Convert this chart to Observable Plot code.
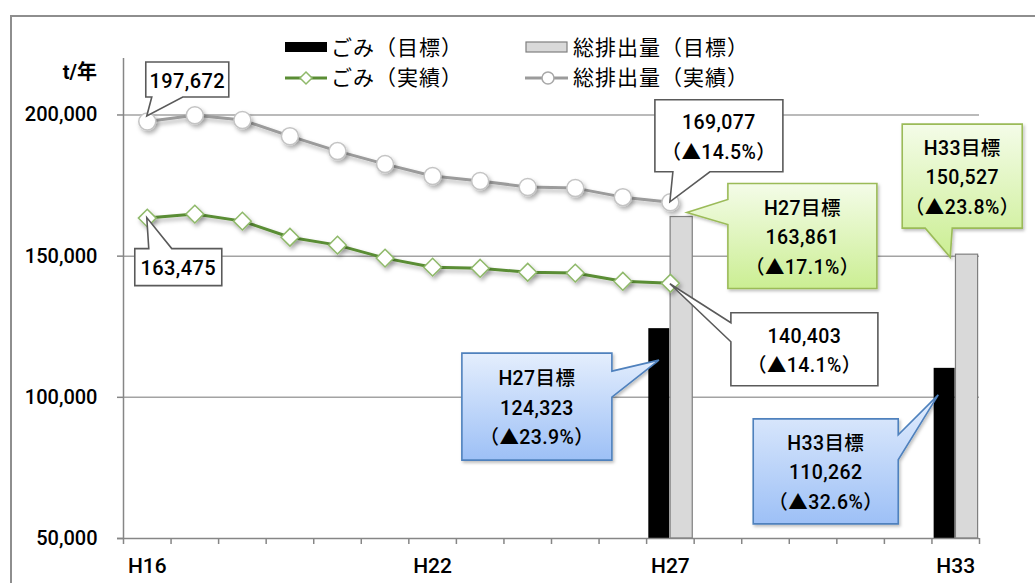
<!DOCTYPE html>
<html>
<head>
<meta charset="utf-8">
<script src="https://cdn.jsdelivr.net/npm/d3@7"></script>
<script src="https://cdn.jsdelivr.net/npm/@observablehq/plot@0.6"></script>
<style>
  html, body { margin: 0; padding: 0; background: #fff; overflow: hidden; }
  #wrap { position: relative; width: 1035px; height: 583px; overflow: hidden; }
  #frame { position: absolute; left: 10px; top: 15px; width: 1100px; height: 700px; border: 2px solid #8e8e8e; box-sizing: border-box; }
  #wrap svg { position: absolute; left: 0; top: 0; }
</style>
</head>
<body>
<div id="wrap"><div id="frame"></div></div>
<script>
// ---------------- data ----------------
const years = ["H16","H17","H18","H19","H20","H21","H22","H23","H24","H25","H26","H27","H28","H29","H30","H31","H32","H33"];
const actualYears = ["H16","H17","H18","H19","H20","H21","H22","H23","H24","H25","H26","H27"];
const totalActual = [197672, 199900, 198200, 192500, 187200, 182600, 178400, 176600, 174500, 174100, 170900, 169077];
const gomiActual  = [163475, 164900, 162400, 156700, 153900, 149300, 146100, 145700, 144300, 144000, 141100, 140403];
const targetYears = ["H27", "H33"];
const gomiTarget  = [124323, 110262];
const totalTarget = [163861, 150527];
const gomiTargetPct  = ["▲23.9%", "▲32.6%"];
const totalTargetPct = ["▲17.1%", "▲23.8%"];
const totalActualPct = "▲14.5%";
const gomiActualPct  = "▲14.1%";
const yTicks = [50000, 100000, 150000, 200000];
const xLabelTicks = ["H16", "H22", "H27", "H33"];
const legendNames = ["ごみ（目標）", "総排出量（目標）", "ごみ（実績）", "総排出量（実績）"];
const unitLabel = "t/年";

// ---------------- build ----------------
const idx = y => years.indexOf(y);
const totalRows = actualYears.map((y, k) => ({i: idx(y), v: totalActual[k]}));
const gomiRows  = actualYears.map((y, k) => ({i: idx(y), v: gomiActual[k]}));
const targetRows = targetYears.map((y, k) => ({i: idx(y), gomi: gomiTarget[k], total: totalTarget[k]}));
const boundaries = d3.range(years.length + 1).map(k => k - 0.5);
const fmt = d3.format(",");

const FONT = "Roboto,'Liberation Sans','Noto Sans CJK JP',sans-serif";
const CJK = "'Noto Sans CJK JP',sans-serif";
const AX = "#868686";
const GREEN = "#5a8d34";
const GREEN_M = "#8fb96a";
const GRAY_L = "#9b9b9b";

const chart = Plot.plot({
  width: 1035, height: 583,
  marginLeft: 123, marginRight: 56, marginTop: 58, marginBottom: 45,
  style: {fontFamily: FONT, fontSize: "20px", fontWeight: 500, color: "black", background: "transparent", overflow: "visible"},
  x: {type: "linear", domain: [-0.5, years.length - 0.5], label: null},
  y: {domain: [50000, 220000], label: null},
  marks: [
    Plot.gridY(yTicks.slice(1), {stroke: "#a3a3a3", strokeOpacity: 1, strokeWidth: 1.5}),
    Plot.rectY(targetRows, {x1: d => d.i - 0.5, x2: d => d.i + 0.5, y1: 50000, y2: "gomi", fill: "black", insetLeft: 2.2, insetRight: 24.4}),
    Plot.rectY(targetRows, {x1: d => d.i - 0.5, x2: d => d.i + 0.5, y1: 50000, y2: "total", fill: "#d9d9d9", stroke: "#7f7f7f", strokeWidth: 1.2, insetLeft: 24, insetRight: 1.4}),
    Plot.ruleX([-0.5], {stroke: AX, strokeWidth: 1.5}),
    Plot.ruleY([50000], {stroke: AX, strokeWidth: 1.5, insetLeft: -6}),
    Plot.axisY(yTicks, {tickSize: 6, tickPadding: 20, tickFormat: fmt, fontSize: 20, stroke: AX, strokeWidth: 1.5, label: null}),
    Plot.axisX(boundaries, {tickSize: 6, tickFormat: () => "", stroke: AX, strokeWidth: 1.5, label: null}),
    Plot.axisX(xLabelTicks.map(idx), {tickSize: 0, tickPadding: 20, tickFormat: i => years[i], fontSize: 21, label: null}),
    Plot.line(totalRows, {x: "i", y: "v", stroke: GRAY_L, strokeWidth: 3}),
    Plot.dot(totalRows, {x: "i", y: "v", r: 8.5, fill: "white", stroke: "#c4c4c4", strokeWidth: 1.5}),
    Plot.line(gomiRows, {x: "i", y: "v", stroke: GREEN, strokeWidth: 3}),
    Plot.dot(gomiRows, {x: "i", y: "v", r: 8, symbol: "diamond2", fill: "white", stroke: GREEN_M, strokeWidth: 1.5})
  ]
});

document.getElementById("wrap").appendChild(chart);

// ---------------- decorations (callouts, legend) ----------------
const svg = d3.select(chart);
const xs = chart.scale("x"), ys = chart.scale("y");
const defs = svg.insert("defs", ":first-child");
const sh = defs.append("filter").attr("id", "sh").attr("x", "-30%").attr("y", "-30%").attr("width", "170%").attr("height", "170%");
sh.append("feDropShadow").attr("dx", 2).attr("dy", 3).attr("stdDeviation", 2).attr("flood-color", "#000").attr("flood-opacity", 0.3);
const sh2 = defs.append("filter").attr("id", "sh2").attr("x", "-10%").attr("y", "-10%").attr("width", "130%").attr("height", "130%");
sh2.append("feDropShadow").attr("dx", 1.5).attr("dy", 2).attr("stdDeviation", 1.5).attr("flood-color", "#000").attr("flood-opacity", 0.25);
function grad(id, c0, c1) {
  const g = defs.append("linearGradient").attr("id", id).attr("x1", 0).attr("y1", 0).attr("x2", 0).attr("y2", 1);
  g.append("stop").attr("offset", "0").attr("stop-color", c0);
  g.append("stop").attr("offset", "1").attr("stop-color", c1);
}
grad("gGreen", "#f4fce8", "#cbee93");
grad("gBlue", "#e4eefd", "#9dc0f6");

svg.selectAll('g[aria-label="line"], g[aria-label="dot"]').attr("filter", "url(#sh)");

const styles = {
  white: {fill: "white", stroke: "#5a5a5a"},
  green: {fill: "url(#gGreen)", stroke: "#9bbb59"},
  blue:  {fill: "url(#gBlue)", stroke: "#4f81bd"}
};

// callouts: anchor from data, layout in pixels
const callouts = [
  {cat: "H16", val: totalActual[0], lines: [fmt(totalActual[0])], kind: "white", tdx: 0, tdy: -5, box: [-1, -54, 83, 35], side: "bottom", base: [6, 37], fs: 20},
  {cat: "H16", val: gomiActual[0], lines: [fmt(gomiActual[0])], kind: "white", tdx: 0, tdy: 0, box: [-12, 31, 87, 37], side: "top", base: [14, 37], fs: 20},
  {cat: "H27", val: totalActual[11], lines: [fmt(totalActual[11]), `（${totalActualPct}）`], kind: "white", tdx: 0, tdy: 0, box: [-15, -102, 128, 72], side: "bottom", base: [18, 55], fs: 19.5},
  {cat: "H27", val: gomiActual[11], lines: [fmt(gomiActual[11]), `（${gomiActualPct}）`], kind: "white", tdx: 0, tdy: 1, box: [61, 29, 147, 73], side: "left", base: [10, 29], fs: 19.5},
  {cat: "H27", val: totalTarget[0], lines: ["H27目標", fmt(totalTarget[0]), `（${totalTargetPct[0]}）`], kind: "green", tdx: 17, tdy: -4, box: [41, -29, 149, 105], side: "left", base: [16, 41], fs: 19.5},
  {cat: "H33", val: totalTarget[1], lines: ["H33目標", fmt(totalTarget[1]), `（${totalTargetPct[1]}）`], kind: "green", tdx: -5, tdy: 3, box: [-48, -133, 120, 104], side: "bottom", base: [23, 50], fs: 19.5},
  {cat: "H27", val: gomiTarget[0], lines: ["H27目標", fmt(gomiTarget[0]), `（${gomiTargetPct[0]}）`], kind: "blue", tdx: -11, tdy: 32, box: [-197, -7, 150, 107], side: "right", base: [18, 44], fs: 19.5},
  {cat: "H33", val: gomiTarget[1], lines: ["H33目標", fmt(gomiTarget[1]), `（${gomiTargetPct[1]}）`], kind: "blue", tdx: -17, tdy: 27, box: [-185, 24, 145, 105], side: "right", base: [16, 41], fs: 19.5}
];

// write a text with CJK characters (incl. ▲ and full-width parens) in the CJK font
function richText(sel, str) {
  const parts = str.match(/([\u2000-\u9fff\uff00-\uffef]+|[^\u2000-\u9fff\uff00-\uffef]+)/g) || [];
  for (const p of parts) {
    const cjk = /[\u2000-\u9fff\uff00-\uffef]/.test(p);
    sel.append("tspan").attr("font-family", cjk ? CJK : FONT).text(p);
  }
}

const cg = svg.append("g").attr("font-family", FONT).attr("font-weight", 500);
for (const c of callouts) {
  const tx = xs.apply(idx(c.cat)) + c.tdx, ty = ys.apply(c.val) + c.tdy;
  const bx = tx + c.box[0], by = ty + c.box[1], bw = c.box[2], bh = c.box[3];
  const [a, b] = c.base;
  let p;
  if (c.side === "bottom") p = `M${bx},${by}H${bx+bw}V${by+bh}H${bx+b}L${tx},${ty}L${bx+a},${by+bh}H${bx}Z`;
  else if (c.side === "top") p = `M${bx},${by}H${bx+a}L${tx},${ty}L${bx+b},${by}H${bx+bw}V${by+bh}H${bx}Z`;
  else if (c.side === "left") p = `M${bx},${by}H${bx+bw}V${by+bh}H${bx}V${by+b}L${tx},${ty}L${bx},${by+a}Z`;
  else p = `M${bx},${by}H${bx+bw}V${by+a}L${tx},${ty}L${bx+bw},${by+b}V${by+bh}H${bx}Z`;
  const st = styles[c.kind];
  cg.append("path").attr("d", p).attr("fill", st.fill).attr("stroke", st.stroke).attr("stroke-width", 1.6)
    .attr("stroke-linejoin", "miter").attr("filter", c.kind === "white" ? null : "url(#sh2)");
  const lh = 29.5;
  const cy = by + bh / 2 + 1;
  c.lines.forEach((t, k) => {
    const te = cg.append("text").attr("x", bx + bw / 2).attr("y", cy + (k - (c.lines.length - 1) / 2) * lh)
      .attr("dy", "0.36em").attr("text-anchor", "middle").attr("font-size", c.fs).attr("letter-spacing", "0.4px").attr("fill", "black");
    richText(te, t);
  });
}

// unit label
const ul = svg.append("text").attr("x", 97).attr("y", 72).attr("dy", "0.36em").attr("text-anchor", "end")
  .attr("font-family", FONT).attr("font-weight", "bold").attr("font-size", 20);
richText(ul, unitLabel);

// legend
const lg = svg.append("g").attr("font-family", CJK).attr("font-size", 21).attr("font-weight", 400)
  .attr("letter-spacing", "1px").attr("text-anchor", "start");
lg.append("rect").attr("x", 285).attr("y", 42).attr("width", 42).attr("height", 10).attr("fill", "black");
lg.append("text").attr("x", 331).attr("y", 47).attr("dy", "0.36em").text(legendNames[0]);
lg.append("rect").attr("x", 526).attr("y", 42).attr("width", 41).attr("height", 10).attr("fill", "#d9d9d9").attr("stroke", "#7f7f7f").attr("stroke-width", 1.2);
lg.append("text").attr("x", 573).attr("y", 47).attr("dy", "0.36em").text(legendNames[1]);
lg.append("line").attr("x1", 285).attr("x2", 327).attr("y1", 78).attr("y2", 78).attr("stroke", GREEN).attr("stroke-width", 3);
lg.append("path").attr("d", "M306,72L312,78L306,84L300,78Z").attr("fill", "white").attr("stroke", GREEN_M).attr("stroke-width", 1.5);
lg.append("text").attr("x", 331).attr("y", 77).attr("dy", "0.36em").text(legendNames[2]);
lg.append("line").attr("x1", 525).attr("x2", 568).attr("y1", 78).attr("y2", 78).attr("stroke", GRAY_L).attr("stroke-width", 3);
lg.append("circle").attr("cx", 548).attr("cy", 78).attr("r", 6).attr("fill", "white").attr("stroke", "#a8a8a8").attr("stroke-width", 1.5);
lg.append("text").attr("x", 573).attr("y", 77).attr("dy", "0.36em").text(legendNames[3]);
</script>
</body>
</html>
